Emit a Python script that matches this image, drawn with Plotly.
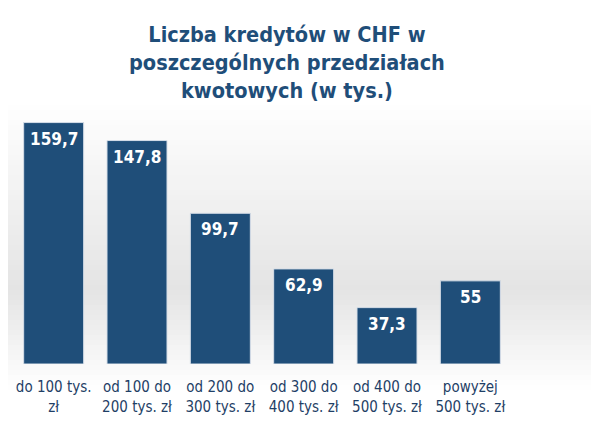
import plotly.graph_objects as go

categories = ["do 100 tys.<br>zł", "od 100 do<br>200 tys. zł", "od 200 do<br>300 tys. zł",
              "od 300 do<br>400 tys. zł", "od 400 do<br>500 tys. zł", "powyżej<br>500 tys. zł"]
values = [159.7, 147.8, 99.7, 62.9, 37.3, 55]
labels = [f"{v:g}".replace(".", ",") for v in values]
title_text = "Liczba kredytów w CHF w<br>poszczególnych przedziałach<br>kwotowych (w tys.)"

BAR = "#1f4e79"
TXT = "#1f4e79"
TICK = "#1f3f66"
FONT = "DejaVu Sans Condensed, DejaVu Sans, sans-serif"

W, H = 599, 425
OFF = 8  # page body margin offset
# target image coords: plot x 12..512, y 107..364
ml = 12 - OFF
mr = W - (512 - OFF)
mt = 107 - OFF
mb = H - (364 - OFF)
plot_w = W - ml - mr
plot_h = H - mt - mb

def px_x(x):  # x in image pixels
    return (x - OFF - ml) / plot_w

def px_y(y):  # y in image pixels
    return (H - mb - (y - OFF)) / plot_h

fig = go.Figure()
fig.add_trace(go.Bar(
    x=categories, y=values,
    marker=dict(color=BAR, line=dict(color="#d6dee8", width=1)),
    hoverinfo="skip",
))

# data labels inside the top of each bar
for c, v, t in zip(categories, values, labels):
    fig.add_annotation(x=c, y=v, text=f"<b>{t}</b>", showarrow=False,
                       yanchor="top", yshift=-4,
                       font=dict(family=FONT, size=17, color="white"))

# title
fig.add_annotation(xref="paper", yref="paper", x=px_x(287), y=px_y(20),
                   xanchor="center", yanchor="top", showarrow=False,
                   text=f"<b>{title_text}</b>", align="center",
                   font=dict(family=FONT, size=21.5, color=TXT))

# background vertical gradient (white -> light grey -> white)
def grey(y):
    if y < 100:
        g = 255
    elif y < 290:
        g = 255 - (y - 100) / 190 * 27
    elif y < 390:
        g = 228 + (y - 290) / 100 * 27
    else:
        g = 255
    g = int(round(g))
    return f"rgb({g},{g},{g})"

shapes = []
step = 5
for y0 in range(0, H + OFF, step):
    shapes.append(dict(type="rect", xref="paper", yref="paper", layer="below",
                       x0=px_x(0), x1=px_x(W + OFF),
                       y0=px_y(y0 + step), y1=px_y(y0),
                       line=dict(width=0), fillcolor=grey(y0 + step / 2)))

fig.update_layout(
    width=W, height=H,
    margin=dict(l=ml, r=mr, t=mt, b=mb, autoexpand=False),
    paper_bgcolor="white",
    plot_bgcolor="rgba(0,0,0,0)",
    shapes=shapes,
    showlegend=False,
    bargap=0.28,
    xaxis=dict(showgrid=False, showline=False, zeroline=False, ticks="",
               automargin=False, ticklabelstandoff=12,
               tickfont=dict(family=FONT, size=15, color=TICK)),
    yaxis=dict(range=[0, 170], visible=False, showgrid=False, zeroline=False,
               automargin=False),
)

fig.write_html("out.html")
